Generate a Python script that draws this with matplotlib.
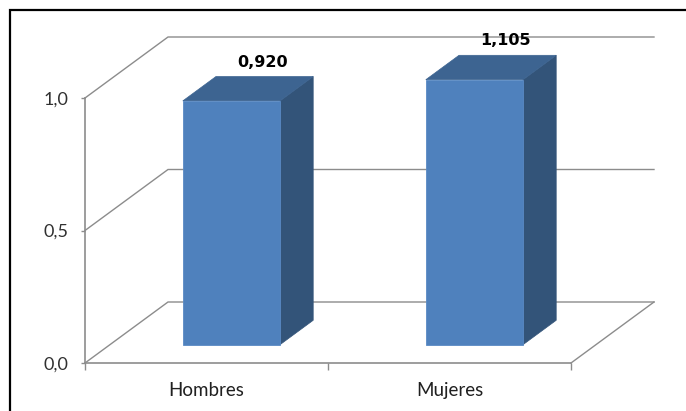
import matplotlib
matplotlib.use("Agg")
import matplotlib.pyplot as plt
from matplotlib.patches import Polygon, Rectangle

# Chart data
categories = ["Hombres", "Mujeres"]
values = [0.920, 1.105]
y_ticks = [0.0, 0.5, 1.0]
y_tick_labels = ["0,0", "0,5", "1,0"]

plt.rcParams["font.family"] = ["Lato", "DejaVu Sans"]

W, H = 686, 411
fig = plt.figure(figsize=(W / 100, H / 100), dpi=100)
fig.patch.set_facecolor("white")

# Front plane of the 3-D box: categories 0..2 across, values 0..1 up
ax = fig.add_axes([85 / W, 48 / H, 486 / W, 265 / H])
ymax = y_ticks[-1]
ax.set_xlim(0, len(categories))
ax.set_ylim(0, ymax)
ax.patch.set_visible(False)

# Oblique depth vector of the full floor, in data units
DX, DY = 83 / 243, 61 / 265
GRID = "#8c8c8c"
FRONT, TOP, SIDE = "#4f81bd", "#3d6491", "#335479"

# Side wall and back wall gridlines
xr = len(categories)
for t in y_ticks:
    ax.plot([0, DX, xr + DX], [t, t + DY, t + DY], color=GRID, lw=1,
            clip_on=False, zorder=1, solid_joinstyle="miter")
# Right edge of the floor
ax.plot([xr, xr + DX], [0, DY], color=GRID, lw=1, clip_on=False, zorder=1)

# 3-D bars
bar_w = 0.4
d0, d1 = 0.3, 0.7
for i, v in enumerate(values):
    c = i + 0.5
    h = min(v, ymax)  # the value axis stops at its maximum
    xl, xrr = c - bar_w / 2, c + bar_w / 2
    ox0, oy0 = d0 * DX, d0 * DY
    ox1, oy1 = d1 * DX, d1 * DY
    side = Polygon([(xrr + ox0, oy0), (xrr + ox1, oy1),
                    (xrr + ox1, h + oy1), (xrr + ox0, h + oy0)],
                   closed=True, fc=SIDE, ec=SIDE, lw=0.5, clip_on=False, zorder=3)
    top = Polygon([(xl + ox0, h + oy0), (xrr + ox0, h + oy0),
                   (xrr + ox1, h + oy1), (xl + ox1, h + oy1)],
                  closed=True, fc=TOP, ec=TOP, lw=0.5, clip_on=False, zorder=3)
    front = Rectangle((xl + ox0, oy0), bar_w, h, fc=FRONT, ec="#5a8ac4",
                      lw=0.6, clip_on=False, zorder=4)
    for p in (side, top, front):
        ax.add_patch(p)
    label = f"{v:.3f}".replace(".", ",")
    ax.annotate(label, xy=(c + ox1 - 0.01, h + oy1), xytext=(0, 7.2),
                textcoords="offset points", ha="center", va="baseline",
                fontsize=11.5, fontweight="bold", color="black",
                family=["DejaVu Sans"],
                annotation_clip=False, zorder=6)

# Axes lines and ticks
for s in ("top", "right"):
    ax.spines[s].set_visible(False)
for s in ("left", "bottom"):
    ax.spines[s].set_color(GRID)
    ax.spines[s].set_linewidth(1.2)
    ax.spines[s].set_zorder(2)

ax.set_yticks(y_ticks, y_tick_labels)
ax.tick_params(axis="y", direction="out", length=3, width=1, color=GRID,
               labelcolor="#303030", labelsize=13, pad=9)

ax.set_xticks(range(len(categories) + 1))
ax.set_xticks([i + 0.5 for i in range(len(categories))], categories, minor=True)
ax.tick_params(axis="x", which="major", direction="out", length=5, width=1,
               color=GRID, labelbottom=False)
ax.tick_params(axis="x", which="minor", length=0, labelsize=13.5,
               labelcolor="#202020", pad=14)

# Outer frame of the chart area
fig.add_artist(Rectangle((10 / W, -0.1), 1.2, (H - 10) / H + 0.1,
                         transform=fig.transFigure, fill=False,
                         ec="black", lw=1.6))

fig.savefig("out.png", dpi=100)
